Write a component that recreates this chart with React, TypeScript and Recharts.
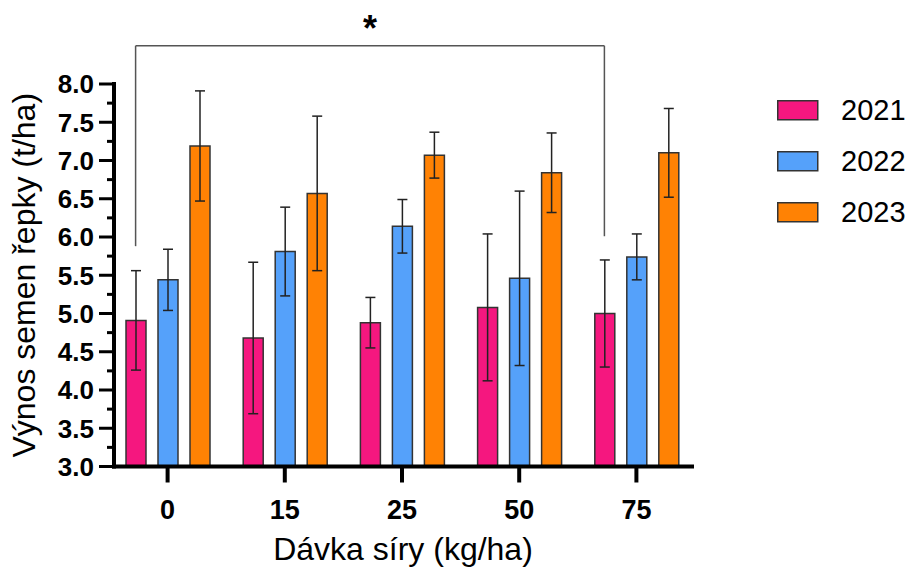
import { BarChart, Bar, XAxis, YAxis, ErrorBar, ReferenceLine, Legend } from "recharts";

const doses = ["0", "15", "25", "50", "75"];
const years = ["2021", "2022", "2023"];

const mean2021 = [4.91, 4.68, 4.88, 5.08, 5.0];
const sd2021 = [0.65, 0.99, 0.33, 0.96, 0.7];
const mean2022 = [5.44, 5.81, 6.14, 5.46, 5.74];
const sd2022 = [0.4, 0.58, 0.35, 1.14, 0.3];
const mean2023 = [7.19, 6.57, 7.07, 6.84, 7.1];
const sd2023 = [0.72, 1.01, 0.3, 0.52, 0.58];

const yTicks = [3, 3.25, 3.5, 3.75, 4, 4.25, 4.5, 4.75, 5, 5.25, 5.5, 5.75, 6, 6.25, 6.5, 6.75, 7, 7.25, 7.5, 7.75, 8];

// significance bracket between 2021 at dose 0 and 2021 at dose 75
const bracketFrom = 0;
const bracketTo = 4;
const bracketTop = 8.5;
const bracketEnds = [5.88, 6.01];
const bracketMark = "*";

const COLORS: Record<string, string> = {
  "2021": "#F5177F",
  "2022": "#55A1FA",
  "2023": "#FF8204",
};

const FONT = "'Liberation Sans', Arial, Helvetica, sans-serif";

const W = 915;
const H = 568;
const TOP = 84;
const PLOT_LEFT = 114;
const PLOT_RIGHT = 692;
const PLOT_BOTTOM = 466.5;
const PAD = { left: -5, right: -3 };
const BAR = 20;
const GAP = 12;
const BAND = (PLOT_RIGHT - PLOT_LEFT - PAD.left - PAD.right) / doses.length;
const firstBarShift = -(BAR + GAP) / BAND;

const data = doses.map((d, i) => ({
  dose: d,
  pos: i,
  y2021: mean2021[i],
  e2021: sd2021[i],
  y2022: mean2022[i],
  e2022: sd2022[i],
  y2023: mean2023[i],
  e2023: sd2023[i],
}));

function YTick(props: any) {
  const { x, y, payload } = props;
  const v = payload.value as number;
  const major = Math.abs(v * 2 - Math.round(v * 2)) < 1e-6;
  return (
    <g>
      <line x1={x - (major ? 15 : 7)} x2={x} y1={y} y2={y} stroke="#000" strokeWidth={3} />
      {major && (
        <text x={x - 20} y={y} dy="0.36em" textAnchor="end" fontSize={26} fontWeight="bold" fontFamily={FONT} fill="#000">
          {v.toFixed(1)}
        </text>
      )}
    </g>
  );
}

function XTick(props: any) {
  const { x, y, payload } = props;
  return (
    <g>
      <line x1={x} x2={x} y1={y} y2={y + 16} stroke="#000" strokeWidth={4} />
      <text x={x} y={y + 52} textAnchor="middle" fontSize={27} fontWeight="bold" fontFamily={FONT} fill="#000">
        {payload.value}
      </text>
    </g>
  );
}

function YTitle(props: any) {
  const vb = props.viewBox;
  const cx = vb.x + 35;
  const cy = vb.y + vb.height / 2;
  return (
    <text x={cx} y={cy} transform={`rotate(-90, ${cx}, ${cy})`} textAnchor="middle" fontSize={32} fontFamily={FONT} fill="#000">
      Výnos semen řepky (t/ha)
    </text>
  );
}

function XTitle(props: any) {
  const vb = props.viewBox;
  return (
    <text x={vb.x + vb.width / 2} y={vb.y + 93} textAnchor="middle" fontSize={32} fontFamily={FONT} fill="#000">
      Dávka síry (kg/ha)
    </text>
  );
}

function LegendBox() {
  return (
    <svg width={137} height={160} style={{ overflow: "visible" }}>
      {years.map((yr, i) => (
        <g key={yr}>
          <rect x={0.75} y={0.75 + i * 51} width={40} height={19} fill={COLORS[yr]} stroke="#333" strokeWidth={1.5} />
          <text x={64} y={10 + i * 51} dy="0.36em" fontSize={29} fontFamily={FONT} fill="#000">
            {yr}
          </text>
        </g>
      ))}
    </svg>
  );
}

export default function App() {
  const x0 = bracketFrom + firstBarShift;
  const x1 = bracketTo + firstBarShift;
  const lineStyle = { stroke: "#555", strokeWidth: 1.5 };
  return (
    <div style={{ position: "absolute", left: 0, top: 0, width: W, height: H, background: "#fff" }}>
      <BarChart
        width={W}
        height={H}
        data={data}
        margin={{ top: TOP, right: W - PLOT_RIGHT, bottom: 0, left: 0 }}
        barSize={BAR}
        barGap={GAP}
      >
        <XAxis
          xAxisId="cat"
          dataKey="dose"
          height={H - PLOT_BOTTOM}
          padding={PAD}
          interval={0}
          axisLine={{ stroke: "#000", strokeWidth: 4, strokeLinecap: "square" }}
          tickLine={false}
          tickSize={0}
          tickMargin={0}
          tick={<XTick />}
          label={{ content: XTitle }}
        />
        <XAxis
          xAxisId="pos"
          dataKey="pos"
          type="number"
          scale="linear"
          domain={[-0.5, doses.length - 0.5]}
          allowDataOverflow
          padding={PAD}
          hide
        />
        <YAxis
          domain={[3, 8]}
          ticks={yTicks}
          interval={0}
          allowDataOverflow
          width={PLOT_LEFT}
          axisLine={{ stroke: "#000", strokeWidth: 4, strokeLinecap: "square" }}
          tickLine={false}
          tickSize={0}
          tickMargin={0}
          tick={<YTick />}
          label={{ content: YTitle }}
        />
        {years.map((yr) => (
          <Bar
            key={yr}
            xAxisId="cat"
            dataKey={`y${yr}`}
            name={yr}
            fill={COLORS[yr]}
            stroke="#333"
            strokeWidth={1.5}
            isAnimationActive={false}
          >
            <ErrorBar dataKey={`e${yr}`} width={5} stroke="#222" strokeWidth={1.5} direction="y" />
          </Bar>
        ))}
        <ReferenceLine
          xAxisId="pos"
          ifOverflow="visible"
          segment={[{ x: x0, y: bracketTop }, { x: x1, y: bracketTop }]}
          {...lineStyle}
          label={{ value: bracketMark, position: "top", offset: 5, fontSize: 36, fontWeight: "bold", fill: "#000", fontFamily: FONT }}
        />
        <ReferenceLine
          xAxisId="pos"
          ifOverflow="visible"
          segment={[{ x: x0, y: bracketTop }, { x: x0, y: bracketEnds[0] }]}
          {...lineStyle}
        />
        <ReferenceLine
          xAxisId="pos"
          ifOverflow="visible"
          segment={[{ x: x1, y: bracketTop }, { x: x1, y: bracketEnds[1] }]}
          {...lineStyle}
        />
        <Legend
          layout="horizontal"
          verticalAlign="middle"
          align="center"
          content={<LegendBox />}
          wrapperStyle={{ left: 777, top: 100, width: 137, height: 160 }}
        />
      </BarChart>
    </div>
  );
}
